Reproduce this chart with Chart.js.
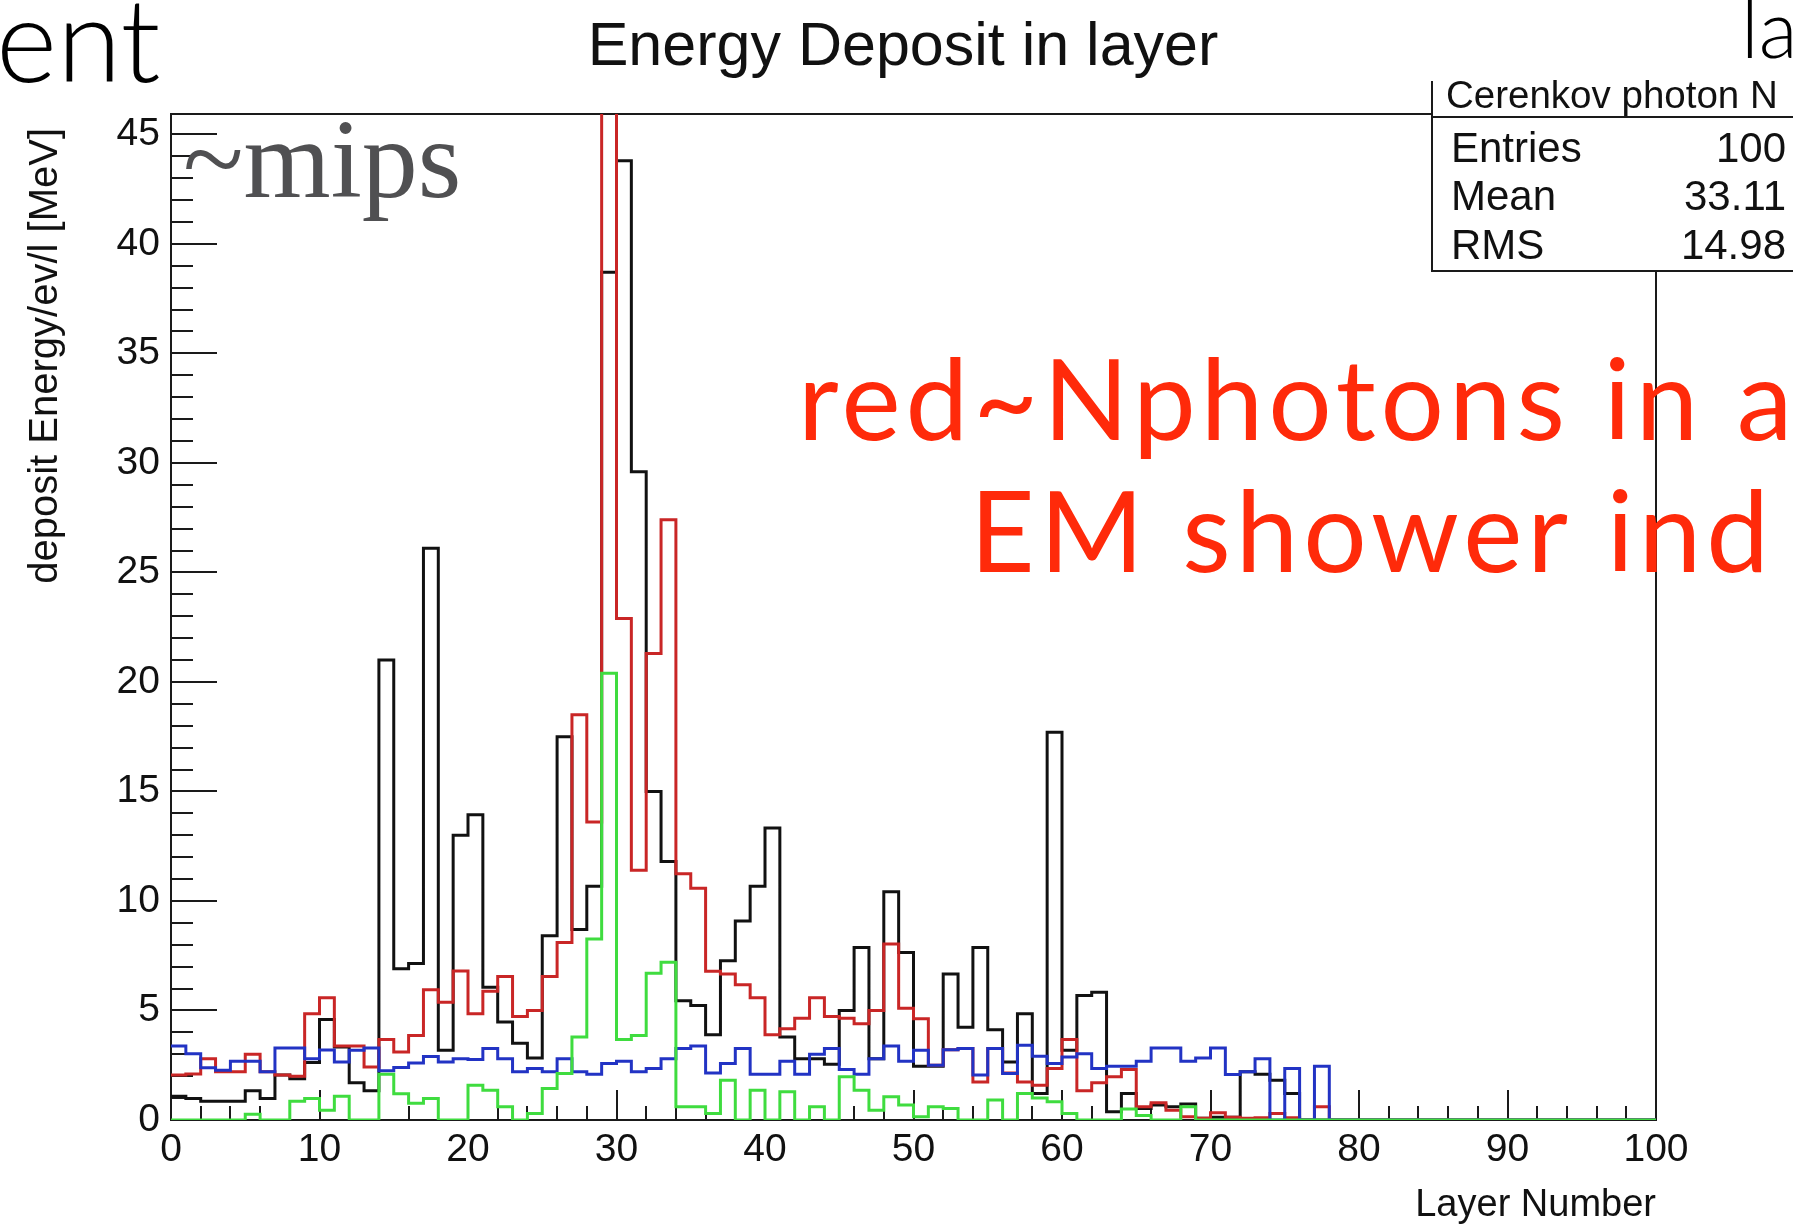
<!DOCTYPE html>
<html>
<head>
<meta charset="utf-8">
<title>Energy Deposit in layer</title>
<script src="https://cdn.jsdelivr.net/npm/chart.js@4.4.1/dist/chart.umd.min.js"></script>
<style>
html,body{margin:0;padding:0;background:#fff;overflow:hidden;}
#wrap{width:1793px;height:1225px;position:relative;}
</style>
</head>
<body>
<div id="wrap"><canvas id="depositChart" width="1793" height="1225"></canvas></div>
<script>

// energy deposit per layer [MeV], one value per layer bin 0..99
const depositTotal = [
1.09,0.98,0.86,0.86,0.86,1.33,0.98,2.05,1.88,2.62,
4.59,3.33,1.70,1.33,21.0,6.9,7.15,26.1,3.18,13.0,
13.94,6.06,4.47,3.5,2.83,8.41,17.5,8.7,10.67,38.7,
43.8,29.6,15.0,11.8,5.45,5.23,3.89,7.27,9.09,10.67,
13.33,3.79,2.8,2.8,2.55,5.0,7.88,2.8,10.42,7.65,
2.45,2.45,6.67,4.24,7.88,4.12,2.65,4.85,1.21,17.7,
3.18,5.68,5.83,0.38,1.21,0.53,0.68,0.6,0.73,0.08,
0.12,0.12,2.2,2.09,1.82,1.21,0,0,0,0,
0,0,0,0,0,0,0,0,0,0,
0,0,0,0,0,0,0,0,0,0
]

// cerenkov photon count (red), bin 29 runs off the top of the frame
const cerenkovPhotons = [
2.05,2.1,2.8,2.2,2.2,3.0,2.2,2.05,2.0,4.85,
5.58,3.38,3.38,2.42,3.67,3.1,3.86,5.95,5.38,6.8,
4.85,5.88,6.55,4.73,5.0,6.55,8.1,18.5,13.6,48.0,
22.9,11.4,21.3,27.4,11.24,10.58,6.79,6.67,6.17,5.58,
3.89,4.17,4.65,5.58,4.73,4.65,4.39,5.0,8.03,5.1,
4.62,2.5,3.21,3.26,1.74,3.26,2.15,1.74,1.59,2.35,
3.67,1.33,1.7,1.97,2.3,0.6,0.79,0.45,0.15,0.08,
0.33,0.12,0.08,0.1,0.3,0.1,0,0.6,0,0,
0,0,0,0,0,0,0,0,0,0,
0,0,0,0,0,0,0,0,0,0
]

const depositBlue = [
3.38,3.03,2.39,2.27,2.68,2.68,2.2,3.29,3.29,2.8,
3.2,2.65,3.18,3.29,2.25,2.4,2.6,2.9,2.65,2.8,
2.76,3.26,2.8,2.2,2.35,2.2,2.8,2.2,2.09,2.58,
2.68,2.2,2.35,2.8,3.26,3.38,2.15,2.58,3.26,2.09,
2.09,2.68,2.09,3.0,3.26,2.3,2.09,2.8,3.38,2.68,
3.18,2.5,3.21,3.26,2.05,3.26,2.12,3.41,2.91,2.58,
2.88,3.03,2.35,2.45,2.45,2.68,3.29,3.29,2.68,2.83,
3.29,2.08,2.2,2.8,0,2.35,0,2.45,0,0,
0,0,0,0,0,0,0,0,0,0,
0,0,0,0,0,0,0,0,0,0
]

const depositGreen = [
0,0,0,0,0,0.26,0,0,0.86,0.98,
0.45,1.09,0,0,2.09,1.2,0.76,0.98,0,0,
1.59,1.36,0.6,0,0.3,1.44,2.12,3.79,8.26,20.4,
3.67,3.86,6.7,7.2,0.6,0.6,0.3,1.82,0,1.36,
0,1.29,0,0.6,0,1.97,1.36,0.45,1.06,0.68,
0.15,0.6,0.53,0,0,0.91,0,1.21,1.0,0.83,
0.3,0,0,0,0.5,0.2,0,0,0.6,0,
0,0,0,0,0,0,0,0,0,0,
0,0,0,0,0,0,0,0,0,0,
0,0,0,0,0,0,0,0,0,0
]

const xMajorTicks = [0,10,20,30,40,50,60,70,80,90,100]
const yMajorTicks = [0,5,10,15,20,25,30,35,40,45]
const yAxisTop = 45.93

const statsTitle = "Cerenkov photon N"
const statsNames = ["Entries","Mean","RMS"]
const statsValues = ["100","33.11","14.98"]

const SANS = '"Liberation Sans", Arial, Helvetica, sans-serif'

// histogram outline: each bin becomes a flat segment from its low edge to its high edge
function binOutline(vals){
  let pts=[]
  vals.forEach((v,i)=>{
    pts.push({x:i,y:v})
    pts.push({x:i+1,y:v})
  })
  return pts
}

function histSet(label,vals,color){
  return {
    label:label,
    data:binOutline(vals),
    borderColor:color,
    borderWidth:3,
    pointRadius:0,
    fill:false,
    tension:0
  }
}

// minor ticks every `step` between min and max (majors are picked out later)
function tickRun(from,to,step){
  let t=[]
  for(let v=from; v<=to; v+=step) t.push({value:v})
  return t
}

// inward ticks + frame, drawn under the histograms
const rootFrame = {
  id:"rootFrame",
  beforeDatasetsDraw(chart){
    const {ctx,chartArea:a,scales:{x,y}} = chart
    ctx.save()
    ctx.strokeStyle="#1a1a1a"
    ctx.lineWidth=2
    ctx.beginPath()
    y.ticks.forEach(t=>{
      const py=Math.round(y.getPixelForValue(t.value))
      const len=yMajorTicks.includes(t.value)?46:22
      ctx.moveTo(a.left,py)
      ctx.lineTo(a.left+len,py)
    })
    x.ticks.forEach(t=>{
      const px=Math.round(x.getPixelForValue(t.value))
      const len=xMajorTicks.includes(t.value)?30:14
      ctx.moveTo(px,a.bottom)
      ctx.lineTo(px,a.bottom-len)
    })
    ctx.stroke()
    ctx.strokeRect(a.left,a.top,a.right-a.left,a.bottom-a.top)
    ctx.restore()
  },
  afterDraw(chart){
    const ctx=chart.ctx
    ctx.save()

    // stats box, running past the right edge
    ctx.fillStyle="#fff"
    ctx.fillRect(1432,81,400,190)
    ctx.strokeStyle="#1a1a1a"
    ctx.lineWidth=2
    ctx.beginPath()
    ctx.moveTo(1432,81); ctx.lineTo(1432,271); ctx.lineTo(1800,271)
    ctx.moveTo(1432,117); ctx.lineTo(1800,117)
    ctx.stroke()
    ctx.fillStyle="#111"
    ctx.textBaseline="alphabetic"
    ctx.textAlign="left"
    ctx.font="38.5px "+SANS
    ctx.fillText(statsTitle,1446,108)
    ctx.font="42px "+SANS
    const rowY=[162,210,259]
    statsNames.forEach((n,i)=>{
      ctx.textAlign="left"
      ctx.fillText(n,1451,rowY[i])
      ctx.textAlign="right"
      ctx.fillText(statsValues[i],1786,rowY[i])
    })

    // histogram title
    ctx.textAlign="center"
    ctx.font="61px "+SANS
    ctx.fillText("Energy Deposit in layer",903,65)

    // y axis title, right-aligned to the top of the axis
    ctx.save()
    ctx.translate(46,128)
    ctx.rotate(-Math.PI/2)
    ctx.textAlign="right"
    ctx.textBaseline="middle"
    ctx.font="40px "+SANS
    ctx.fillText("deposit Energy/ev/l [MeV]",0,0)
    ctx.restore()

    // slide text around the plot
    ctx.textAlign="left"
    ctx.textBaseline="alphabetic"
    ctx.fillStyle="#000"
    ctx.font='300 117px Lato, "Liberation Sans", sans-serif'
    ctx.fillText("ent",-4,82)
    ctx.font='300 80px Lato, "Liberation Sans", sans-serif'
    ctx.fillText("la",1741,58)

    ctx.fillStyle="#505052"
    ctx.font='112px "Liberation Serif", "DejaVu Serif", serif'
    ctx.fillText("~mips",183,197)

    ctx.fillStyle="#ff2a0a"
    ctx.font='400 112px Lato, "Liberation Sans", sans-serif'
    ctx.letterSpacing="5px"
    ctx.fillText("red~Nphotons in a",798,440)
    ctx.fillText("EM shower ind",970,572)
    ctx.letterSpacing="0px"

    ctx.restore()
  }
}

const ctx=document.getElementById("depositChart")

const chart=new Chart(ctx,{
  type:"line",
  data:{
    datasets:[
      histSet("green",depositGreen,"#3fdc3f"),
      histSet("blue",depositBlue,"#2233c4"),
      histSet("Cerenkov photon N",cerenkovPhotons,"#c92626"),
      histSet("deposit",depositTotal,"#111111")
    ]
  },
  options:{
    responsive:false,
    devicePixelRatio:1,
    animation:false,
    events:[],
    layout:{padding:{left:0,right:137,top:114,bottom:0}},
    plugins:{
      legend:{display:false},
      tooltip:{enabled:false},
      title:{display:false}
    },
    scales:{
      x:{
        type:"linear",
        min:0,
        max:100,
        grid:{display:false},
        border:{display:false},
        afterBuildTicks:s=>{ s.ticks=tickRun(0,100,2) },
        ticks:{
          autoSkip:false,
          maxRotation:0,
          minRotation:0,
          padding:3,
          color:"#111",
          font:{family:SANS,size:39,lineHeight:1},
          callback:v=>xMajorTicks.includes(v)?String(v):""
        },
        title:{
          display:true,
          text:"Layer Number",
          align:"end",
          color:"#111",
          font:{family:SANS,size:38,lineHeight:1},
          padding:{top:0,bottom:0}
        },
        afterFit:s=>{ s.height=105 }
      },
      y:{
        type:"linear",
        min:0,
        max:yAxisTop,
        grid:{display:false,drawTicks:false},
        border:{display:false},
        afterBuildTicks:s=>{ s.ticks=tickRun(0,45,1) },
        ticks:{
          autoSkip:false,
          padding:11,
          color:"#111",
          font:{family:SANS,size:39},
          callback:v=>yMajorTicks.includes(v)?String(v):""
        },
        afterFit:s=>{ s.width=171 }
      }
    }
  },
  plugins:[rootFrame]
})

</script>
</body>
</html>
